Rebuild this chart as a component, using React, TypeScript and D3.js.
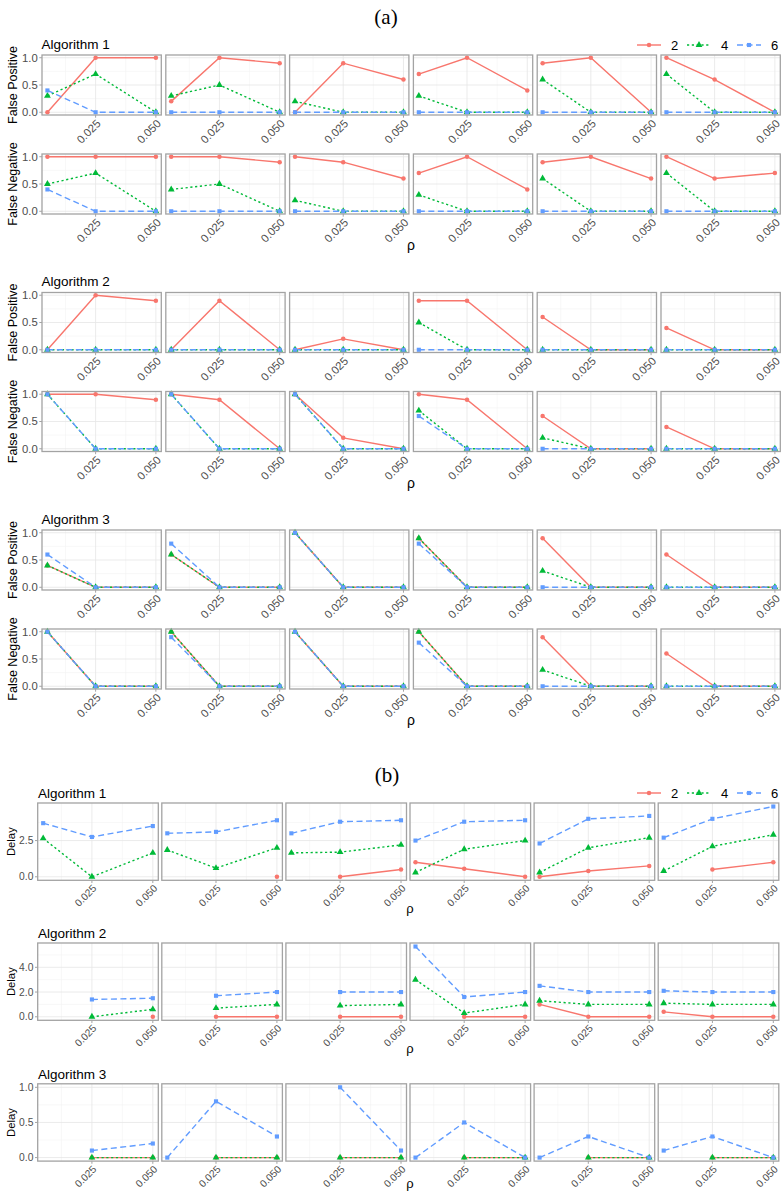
import React from "react";
import * as d3 from "d3";

type V = (number | null)[];

const RHO = [0.005, 0.025, 0.05];
const X_BREAKS = [0, 0.025, 0.05];
const X_TICKS = [0.025, 0.05];
const X_TICK_LABELS = ["0.025", "0.050"];
const GROUPS = ["2", "4", "6"];
const COLORS = ["#F8766D", "#00BA38", "#619CFF"];
const DASHES = ["none", "2.2,2.6", "6,3.5"];
const SHAPES = [d3.symbolCircle, d3.symbolTriangle, d3.symbolSquare];
const ALGORITHMS = ["Algorithm 1", "Algorithm 2", "Algorithm 3"];
const METRICS_A = ["False Positive", "False Negative"];
const PROB_TICKS = [0, 0.5, 1.0];
const PROB_TICK_LABELS = ["0.0", "0.5", "1.0"];

// ---- Part (a): six panels per row, values at rho = 0.005, 0.025, 0.050 ----
// Algorithm 1
const a1FP2: V[] = [[0, 1, 1], [0.2, 1, 0.9], [0, 0.9, 0.6], [0.7, 1, 0.4], [0.9, 1, 0], [1, 0.6, 0]];
const a1FP4: V[] = [[0.3, 0.7, 0], [0.3, 0.5, 0], [0.2, 0, 0], [0.3, 0, 0], [0.6, 0, 0], [0.7, 0, 0]];
const a1FP6: V[] = [[0.4, 0, 0], [0, 0, 0], [0, 0, 0], [0, 0, 0], [0, 0, 0], [0, 0, 0]];
const a1FN2: V[] = [[1, 1, 1], [1, 1, 0.9], [1, 0.9, 0.6], [0.7, 1, 0.4], [0.9, 1, 0.6], [1, 0.6, 0.7]];
const a1FN4: V[] = [[0.5, 0.7, 0], [0.4, 0.5, 0], [0.2, 0, 0], [0.3, 0, 0], [0.6, 0, 0], [0.7, 0, 0]];
const a1FN6: V[] = [[0.4, 0, 0], [0, 0, 0], [0, 0, 0], [0, 0, 0], [0, 0, 0], [0, 0, 0]];
// Algorithm 2
const a2FP2: V[] = [[0, 1, 0.9], [0, 0.9, 0], [0, 0.2, 0], [0.9, 0.9, 0], [0.6, 0, 0], [0.4, 0, 0]];
const a2FP4: V[] = [[0, 0, 0], [0, 0, 0], [0, 0, 0], [0.5, 0, 0], [0, 0, 0], [0, 0, 0]];
const a2FP6: V[] = [[0, 0, 0], [0, 0, 0], [0, 0, 0], [0, 0, 0], [0, 0, 0], [0, 0, 0]];
const a2FN2: V[] = [[1, 1, 0.9], [1, 0.9, 0], [1, 0.2, 0], [1, 0.9, 0], [0.6, 0, 0], [0.4, 0, 0]];
const a2FN4: V[] = [[1, 0, 0], [1, 0, 0], [1, 0, 0], [0.7, 0, 0], [0.2, 0, 0], [0, 0, 0]];
const a2FN6: V[] = [[1, 0, 0], [1, 0, 0], [1, 0, 0], [0.6, 0, 0], [0, 0, 0], [0, 0, 0]];
// Algorithm 3
const a3FP2: V[] = [[0.4, 0, 0], [0.6, 0, 0], [1, 0, 0], [0.9, 0, 0], [0.9, 0, 0], [0.6, 0, 0]];
const a3FP4: V[] = [[0.4, 0, 0], [0.6, 0, 0], [1, 0, 0], [0.9, 0, 0], [0.3, 0, 0], [0, 0, 0]];
const a3FP6: V[] = [[0.6, 0, 0], [0.8, 0, 0], [1, 0, 0], [0.8, 0, 0], [0, 0, 0], [0, 0, 0]];
const a3FN2: V[] = [[1, 0, 0], [1, 0, 0], [1, 0, 0], [1, 0, 0], [0.9, 0, 0], [0.6, 0, 0]];
const a3FN4: V[] = [[1, 0, 0], [1, 0, 0], [1, 0, 0], [1, 0, 0], [0.3, 0, 0], [0, 0, 0]];
const a3FN6: V[] = [[1, 0, 0], [0.9, 0, 0], [1, 0, 0], [0.8, 0, 0], [0, 0, 0], [0, 0, 0]];

// ---- Part (b): Delay ----
const b1D2: V[] = [[null, null, null], [null, null, 0], [null, 0, 0.5], [1.0, 0.55, 0], [0, 0.4, 0.75], [null, 0.5, 1.0]];
const b1D4: V[] = [[2.65, 0, 1.65], [1.85, 0.6, 2.0], [1.65, 1.7, 2.2], [0.3, 1.9, 2.5], [0.3, 2.0, 2.7], [0.4, 2.1, 2.9]];
const b1D6: V[] = [[3.7, 2.75, 3.5], [3.0, 3.1, 3.9], [3.0, 3.8, 3.9], [2.5, 3.8, 3.9], [2.3, 4.0, 4.2], [2.7, 4.0, 4.85]];
const b2D2: V[] = [[null, null, 0], [null, 0, 0], [null, 0, 0], [null, 0, 0], [1.0, 0, 0], [0.4, 0, 0]];
const b2D4: V[] = [[null, 0, 0.6], [null, 0.7, 1.0], [null, 0.9, 1.0], [3.0, 0.3, 1.0], [1.3, 1.0, 1.0], [1.1, 1.0, 1.0]];
const b2D6: V[] = [[null, 1.4, 1.5], [null, 1.7, 2.0], [null, 2.0, 2.0], [5.68, 1.6, 2.0], [2.5, 2.0, 2.0], [2.1, 2.0, 2.0]];
const b3D2: V[] = [[null, 0, 0], [null, 0, 0], [null, 0, 0], [null, 0, 0], [null, 0, 0], [null, 0, 0]];
const b3D4: V[] = [[null, 0, 0], [null, 0, 0], [null, 0, 0], [null, 0, 0], [null, 0, 0], [null, 0, 0]];
const b3D6: V[] = [[null, 0.1, 0.2], [0, 0.8, 0.3], [null, 1.0, 0.1], [0, 0.5, 0], [0, 0.3, 0], [0.1, 0.3, 0]];

const DELAY_TICKS = [[0, 2.5], [0, 2, 4], [0, 0.5, 1]];
const DELAY_TICK_LABELS = [["0.0", "2.5"], ["0.0", "2.0", "4.0"], ["0.0", "0.5", "1.0"]];

const PART_A = [
  [[a1FP2, a1FP4, a1FP6], [a1FN2, a1FN4, a1FN6]],
  [[a2FP2, a2FP4, a2FP6], [a2FN2, a2FN4, a2FN6]],
  [[a3FP2, a3FP4, a3FP6], [a3FN2, a3FN4, a3FN6]],
];
const PART_B = [
  [b1D2, b1D4, b1D6],
  [b2D2, b2D4, b2D6],
  [b3D2, b3D4, b3D6],
];

const FONT = "'Liberation Sans', Arial, Helvetica, sans-serif";
const SERIF = "'Liberation Serif', 'Times New Roman', serif";
const TICK_COLOR = "#4d4d4d";
const BORDER = "#a3a3a3";
const PT_SIZE = [16, 20, 17];

function expand(lo: number, hi: number): [number, number] {
  const p = (hi - lo) * 0.05;
  return [lo - p, hi + p];
}

function minorOf(ticks: number[], domain: [number, number]): number[] {
  const step = ticks[1] - ticks[0];
  const ext = [ticks[0] - step, ...ticks, ticks[ticks.length - 1] + step];
  return d3.pairs(ext).map(([a, b]) => (a + b) / 2).filter((v) => v > domain[0] && v < domain[1]);
}

type PanelProps = {
  x: number; y: number; w: number; h: number;
  yDomain: [number, number];
  yTicks: number[]; yTickLabels: string[];
  series: V[]; showY: boolean; tickFs: number;
};

function Panel({ x, y, w, h, yDomain, yTicks, yTickLabels, series, showY, tickFs }: PanelProps) {
  const xd = expand(d3.min(RHO)!, d3.max(RHO)!);
  const xs = d3.scaleLinear().domain(xd).range([x, x + w]);
  const ys = d3.scaleLinear().domain(yDomain).range([y + h, y]);
  const xMinor = d3.pairs(X_BREAKS).map(([a, b]) => (a + b) / 2);
  const yMinor = minorOf(yTicks, yDomain);
  const line = d3
    .line<[number, number | null]>()
    .defined((d) => d[1] !== null)
    .x((d) => xs(d[0]))
    .y((d) => ys(d[1] as number));
  const pts = series.map((vals) => RHO.map((r, i) => [r, vals[i]] as [number, number | null]));
  return (
    <g>
      <rect x={x} y={y} width={w} height={h} fill="#fff" />
      {xMinor.map((v, i) => (
        <line key={"xm" + i} x1={xs(v)} x2={xs(v)} y1={y} y2={y + h} stroke="#f3f3f3" strokeWidth={0.6} />
      ))}
      {yMinor.map((v, i) => (
        <line key={"ym" + i} x1={x} x2={x + w} y1={ys(v)} y2={ys(v)} stroke="#f3f3f3" strokeWidth={0.6} />
      ))}
      {X_TICKS.map((v, i) => (
        <line key={"xg" + i} x1={xs(v)} x2={xs(v)} y1={y} y2={y + h} stroke="#e6e6e6" strokeWidth={0.8} />
      ))}
      {yTicks.map((v, i) => (
        <line key={"yg" + i} x1={x} x2={x + w} y1={ys(v)} y2={ys(v)} stroke="#e6e6e6" strokeWidth={0.8} />
      ))}
      {pts.map((p, gi) => (
        <path key={"l" + gi} d={line(p) || ""} fill="none" stroke={COLORS[gi]} strokeWidth={1.4}
          strokeDasharray={DASHES[gi]} />
      ))}
      {pts.map((p, gi) =>
        p.filter((d) => d[1] !== null).map((d, j) => (
          <path key={"p" + gi + "-" + j}
            d={d3.symbol().type(SHAPES[gi]).size(PT_SIZE[gi])() || ""}
            transform={`translate(${xs(d[0])},${ys(d[1] as number)})`} fill={COLORS[gi]} />
        ))
      )}
      <rect x={x} y={y} width={w} height={h} fill="none" stroke={BORDER} strokeWidth={1.3} />
      {X_TICKS.map((v, i) => (
        <g key={"xt" + i}>
          <line x1={xs(v)} x2={xs(v)} y1={y + h} y2={y + h + 2.7} stroke={BORDER} strokeWidth={1} />
          <text transform={`translate(${xs(v)},${y + h + 3.5}) rotate(-45)`} textAnchor="end" dy="0.72em"
            fontSize={tickFs} fill={TICK_COLOR} fontFamily={FONT}>
            {X_TICK_LABELS[i]}
          </text>
        </g>
      ))}
      {showY &&
        yTicks.map((v, i) => (
          <g key={"yt" + i}>
            <line x1={x - 2.7} x2={x} y1={ys(v)} y2={ys(v)} stroke={BORDER} strokeWidth={1} />
            <text x={x - 4.3} y={ys(v)} dy="0.35em" textAnchor="end" fontSize={tickFs} fill={TICK_COLOR}
              fontFamily={FONT}>
              {yTickLabels[i]}
            </text>
          </g>
        ))}
    </g>
  );
}

function Legend({ y }: { y: number }) {
  const keyX = [637, 687, 737];
  return (
    <g>
      {GROUPS.map((g, i) => (
        <g key={g}>
          <line x1={keyX[i]} x2={keyX[i] + 24} y1={y} y2={y} stroke={COLORS[i]} strokeWidth={1.4}
            strokeDasharray={DASHES[i]} />
          <path d={d3.symbol().type(SHAPES[i]).size(PT_SIZE[i])() || ""}
            transform={`translate(${keyX[i] + 12},${y})`} fill={COLORS[i]} />
          <text x={keyX[i] + 34} y={y} dy="0.36em" fontSize={13} fontFamily={FONT} fill="#000">
            {g}
          </text>
        </g>
      ))}
    </g>
  );
}

export default function App() {
  const aLeft = 42, aW = 119.3, aGap = 4.5, aH = 60, aBlock = 237.5;
  const bLeft = 37.7, bW = 120.6, bGap = 3.5, bH = 77.3;
  const bTops = [803, 943, 1083.8];
  const probDomain = expand(0, 1);

  return (
    <svg width={783} height={1197} style={{ position: "absolute", left: 0, top: 0, background: "#fff" }}
      fontFamily={FONT}>
      <rect width={783} height={1197} fill="#fff" />
      <text x={386} y={17} dy="0.35em" textAnchor="middle" fontSize={21} fontFamily={SERIF}>(a)</text>
      <text x={387} y={775} dy="0.35em" textAnchor="middle" fontSize={21} fontFamily={SERIF}>(b)</text>

      {PART_A.map((rows, k) => {
        const off = k * aBlock;
        const rowTops = [55 + off, 154 + off];
        return (
          <g key={"A" + k}>
            <text x={41.5} y={44 + off} dy="0.36em" fontSize={13.5} fill="#000">{ALGORITHMS[k]}</text>
            {k === 0 && <Legend y={45} />}
            {rows.map((metric, r) => (
              <g key={"r" + r}>
                <text transform={`translate(13,${rowTops[r] + aH / 2}) rotate(-90)`} textAnchor="middle"
                  dy="0.35em" fontSize={12.5} fill="#000">
                  {METRICS_A[r]}
                </text>
                {d3.range(6).map((p) => (
                  <Panel key={p} x={aLeft + p * (aW + aGap)} y={rowTops[r]} w={aW} h={aH}
                    yDomain={probDomain} yTicks={PROB_TICKS} yTickLabels={PROB_TICK_LABELS}
                    series={metric.map((g) => g[p])} showY={p === 0} tickFs={11.3} />
                ))}
              </g>
            ))}
            <text x={411} y={250 + off} textAnchor="middle" fontSize={14} fill="#000">ρ</text>
          </g>
        );
      })}

      {PART_B.map((groups, k) => {
        const top = bTops[k];
        const maxV = d3.max(groups.flat(2).filter((v) => v !== null) as number[])!;
        const dom = expand(0, maxV);
        return (
          <g key={"B" + k}>
            <text x={38} y={top - 10} dy="0.36em" fontSize={13.5} fill="#000">{ALGORITHMS[k]}</text>
            {k === 0 && <Legend y={top - 10} />}
            <text transform={`translate(10.7,${top + bH / 2}) rotate(-90)`} textAnchor="middle" dy="0.35em"
              fontSize={11.3} fill="#000">
              Delay
            </text>
            {d3.range(6).map((p) => (
              <Panel key={p} x={bLeft + p * (bW + bGap)} y={top} w={bW} h={bH} yDomain={dom}
                yTicks={DELAY_TICKS[k]} yTickLabels={DELAY_TICK_LABELS[k]}
                series={groups.map((g) => g[p])} showY={p === 0} tickFs={10.3} />
            ))}
            <text x={410} y={Math.min(top + bH + 33, 1188)} textAnchor="middle" fontSize={13} fill="#000">ρ</text>
          </g>
        );
      })}
    </svg>
  );
}
